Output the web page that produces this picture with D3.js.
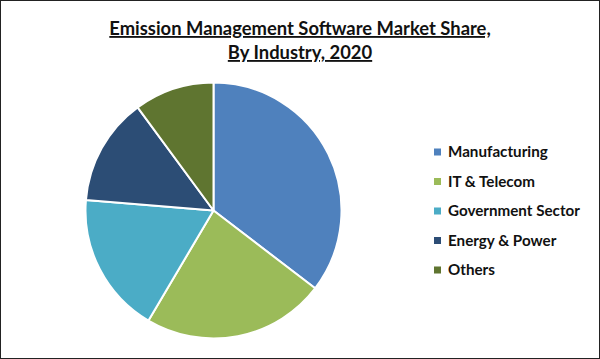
<!DOCTYPE html>
<html><head><meta charset="utf-8">
<script src="https://cdn.jsdelivr.net/npm/d3@7"></script>
<style>body{margin:0;background:#fff;}svg{display:block;}</style>
</head><body>
<svg id="c" width="600" height="359"></svg>
<script>
const categories = ["Manufacturing","IT & Telecom","Government Sector","Energy & Power","Others"];
const values = [35.4, 23.1, 17.8, 13.6, 10.1];
const colors = ["#4F81BD","#9BBB59","#4BACC6","#2C4D75","#5F7530"];
const titleLines = ["Emission Management Software Market Share,","By Industry, 2020"];

const svg = d3.select("#c");
svg.append("rect").attr("x",0.5).attr("y",0.5).attr("width",599).attr("height",358)
  .attr("fill","#fff").attr("stroke","#222").attr("stroke-width",1);

const font = "Lato, 'Open Sans', sans-serif";
svg.selectAll("text.title").data(titleLines).join("text")
  .attr("class","title")
  .attr("x",300).attr("y",(d,i)=>35+i*24)
  .attr("text-anchor","middle")
  .attr("font-family",font).attr("font-weight","bold").attr("font-size",18.4)
  .attr("text-decoration","underline").attr("fill","#111")
  .text(d=>d);

const cx = 213.5, cy = 210.5, r = 128;
const pie = d3.pie().sort(null).value(d=>d)(values);
const arc = d3.arc().innerRadius(0).outerRadius(r);
const g = svg.append("g").attr("transform",`translate(${cx},${cy})`);
g.selectAll("path").data(pie).join("path")
  .attr("d",arc).attr("fill",(d,i)=>colors[i])
  .attr("stroke","#fff").attr("stroke-width",2).attr("stroke-linejoin","round");

const y = d3.scalePoint().domain(categories).range([152,270]);
const lg = svg.append("g");
lg.selectAll("rect").data(categories).join("rect")
  .attr("x",434).attr("y",d=>y(d)-3.5).attr("width",7).attr("height",7)
  .attr("fill",(d,i)=>colors[i]);
lg.selectAll("text").data(categories).join("text")
  .attr("x",448).attr("y",d=>y(d)+5)
  .attr("font-family",font).attr("font-weight","bold").attr("font-size",15.2).attr("fill","#111")
  .text(d=>d);
</script>
</body></html>
